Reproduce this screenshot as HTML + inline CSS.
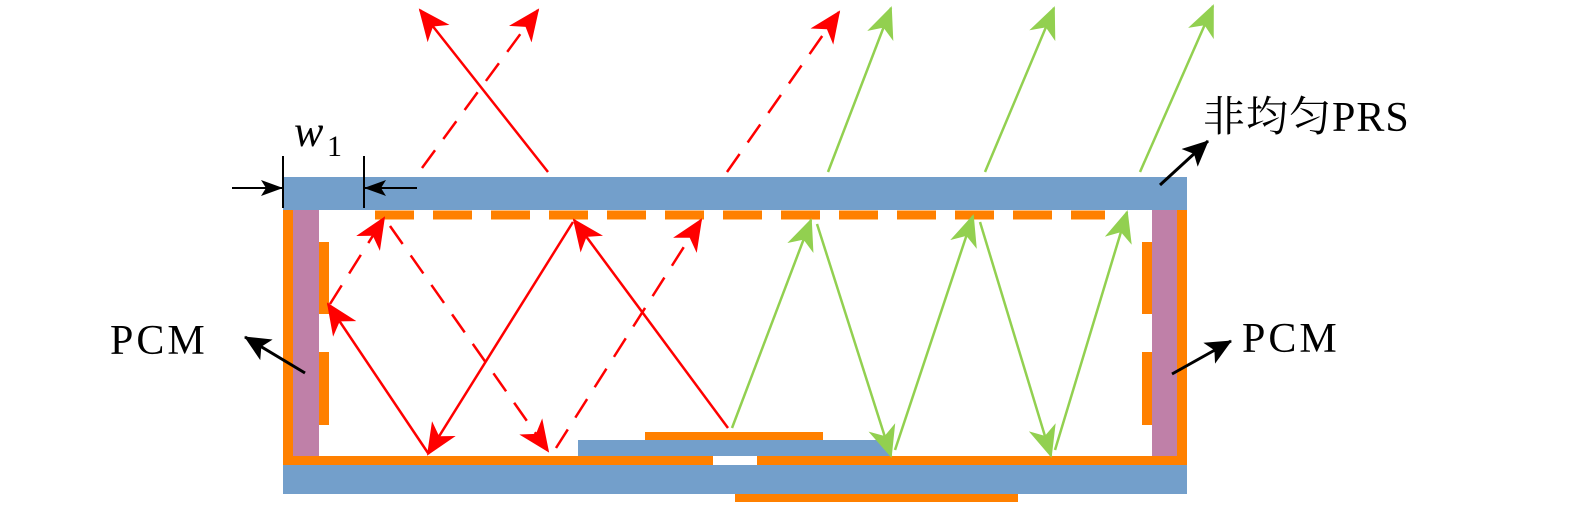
<!DOCTYPE html>
<html><head><meta charset="utf-8"><style>html,body{margin:0;padding:0;background:#fff}svg{display:block}</style></head>
<body>
<svg width="1575" height="512" viewBox="0 0 1575 512" xmlns="http://www.w3.org/2000/svg">
<defs>
<marker id="r" markerWidth="32" markerHeight="28" refX="30" refY="14" orient="auto" markerUnits="userSpaceOnUse" viewBox="0 0 32 28"><path d="M0,0 L32,14 L0,28 L9,14 Z" fill="#f00"/></marker>
<marker id="g" markerWidth="32" markerHeight="28" refX="30" refY="14" orient="auto" markerUnits="userSpaceOnUse" viewBox="0 0 32 28"><path d="M0,0 L32,14 L0,28 L9,14 Z" fill="#92d050"/></marker>
<marker id="k" markerWidth="26" markerHeight="24" refX="25" refY="12" orient="auto" markerUnits="userSpaceOnUse" viewBox="0 0 26 24"><path d="M0,0 L26,12 L0,24 L6,12 Z" fill="#000"/></marker>
<marker id="ks" markerWidth="22" markerHeight="16" refX="21" refY="8" orient="auto" markerUnits="userSpaceOnUse" viewBox="0 0 22 16"><path d="M0,0 L22,8 L0,16 L5,8 Z" fill="#000"/></marker>
</defs>
<style>
.r{stroke:#f00;stroke-width:2.5;fill:none}
.d{stroke-dasharray:22,14}
.g{stroke:#92d050;stroke-width:2.5;fill:none}
</style>
<rect x="283" y="177" width="904" height="33" fill="#739fcb"/>
<rect x="283" y="210" width="10" height="254" fill="#ff8000"/>
<rect x="293" y="210" width="26" height="246" fill="#bf80a8"/>
<rect x="1177" y="210" width="10" height="254" fill="#ff8000"/>
<rect x="1152" y="210" width="25" height="246" fill="#bf80a8"/>
<rect x="319" y="242" width="10" height="72" fill="#ff8000"/>
<rect x="319" y="352" width="10" height="73" fill="#ff8000"/>
<rect x="1142" y="242" width="10" height="72" fill="#ff8000"/>
<rect x="1142" y="352" width="10" height="73" fill="#ff8000"/>
<line x1="375" y1="215" x2="1105" y2="215" stroke="#ff8000" stroke-width="9" stroke-dasharray="39,19"/>
<rect x="283" y="456" width="904" height="9" fill="#ff8000"/>
<rect x="713" y="456" width="44" height="9" fill="#fff"/>
<rect x="283" y="465" width="904" height="29" fill="#739fcb"/>
<rect x="735" y="494" width="283" height="8" fill="#ff8000"/>
<rect x="578" y="440" width="312" height="16" fill="#739fcb"/>
<rect x="645" y="432" width="178" height="8" fill="#ff8000"/>
<line class="r" x1="428" y1="453" x2="328" y2="304" marker-end="url(#r)"/>
<line class="r" x1="573" y1="222" x2="428" y2="454" marker-end="url(#r)"/>
<line class="r" x1="728" y1="428" x2="574" y2="220" marker-end="url(#r)"/>
<line class="r" x1="548" y1="172" x2="420" y2="10" marker-end="url(#r)"/>
<line class="r d" x1="330" y1="304" x2="384" y2="218" marker-end="url(#r)"/>
<line class="r d" x1="390" y1="226" x2="548" y2="451" marker-end="url(#r)"/>
<line class="r d" x1="556" y1="448" x2="701" y2="220" marker-end="url(#r)"/>
<line class="r d" x1="422" y1="168" x2="538" y2="10" marker-end="url(#r)"/>
<line class="r d" x1="727" y1="172" x2="839" y2="12" marker-end="url(#r)"/>
<line class="g" x1="732" y1="428" x2="811" y2="220" marker-end="url(#g)"/>
<line class="g" x1="817" y1="224" x2="891" y2="456" marker-end="url(#g)"/>
<line class="g" x1="895" y1="450" x2="973" y2="216" marker-end="url(#g)"/>
<line class="g" x1="980" y1="222" x2="1051" y2="456" marker-end="url(#g)"/>
<line class="g" x1="1055" y1="450" x2="1127" y2="212" marker-end="url(#g)"/>
<line class="g" x1="828" y1="172" x2="891" y2="8" marker-end="url(#g)"/>
<line class="g" x1="985" y1="172" x2="1054" y2="8" marker-end="url(#g)"/>
<line class="g" x1="1140" y1="172" x2="1213" y2="6" marker-end="url(#g)"/>
<line x1="283" y1="156" x2="283" y2="208" stroke="#000" stroke-width="2"/>
<line x1="364" y1="156" x2="364" y2="208" stroke="#000" stroke-width="2"/>
<line x1="232" y1="188" x2="282" y2="188" stroke="#000" stroke-width="2" marker-end="url(#ks)"/>
<line x1="417" y1="188" x2="365" y2="188" stroke="#000" stroke-width="2" marker-end="url(#ks)"/>
<text x="294" y="146" font-family="Liberation Serif, serif" font-style="italic" font-size="44">w</text>
<text x="327" y="156" font-family="Liberation Serif, serif" font-size="30">1</text>
<line x1="1160" y1="185" x2="1208" y2="141" stroke="#000" stroke-width="3" marker-end="url(#k)"/>
<line x1="305" y1="373" x2="245" y2="337" stroke="#000" stroke-width="3" marker-end="url(#k)"/>
<line x1="1172" y1="374" x2="1231" y2="341" stroke="#000" stroke-width="3" marker-end="url(#k)"/>
<text x="1203" y="131" font-family="Liberation Serif, 'Noto Serif CJK SC', serif" font-size="42" letter-spacing="1">非均匀PRS</text>
<text x="110" y="354" font-family="Liberation Serif, serif" font-size="42" letter-spacing="3">PCM</text>
<text x="1242" y="352" font-family="Liberation Serif, serif" font-size="42" letter-spacing="3">PCM</text>
</svg>
</body></html>
